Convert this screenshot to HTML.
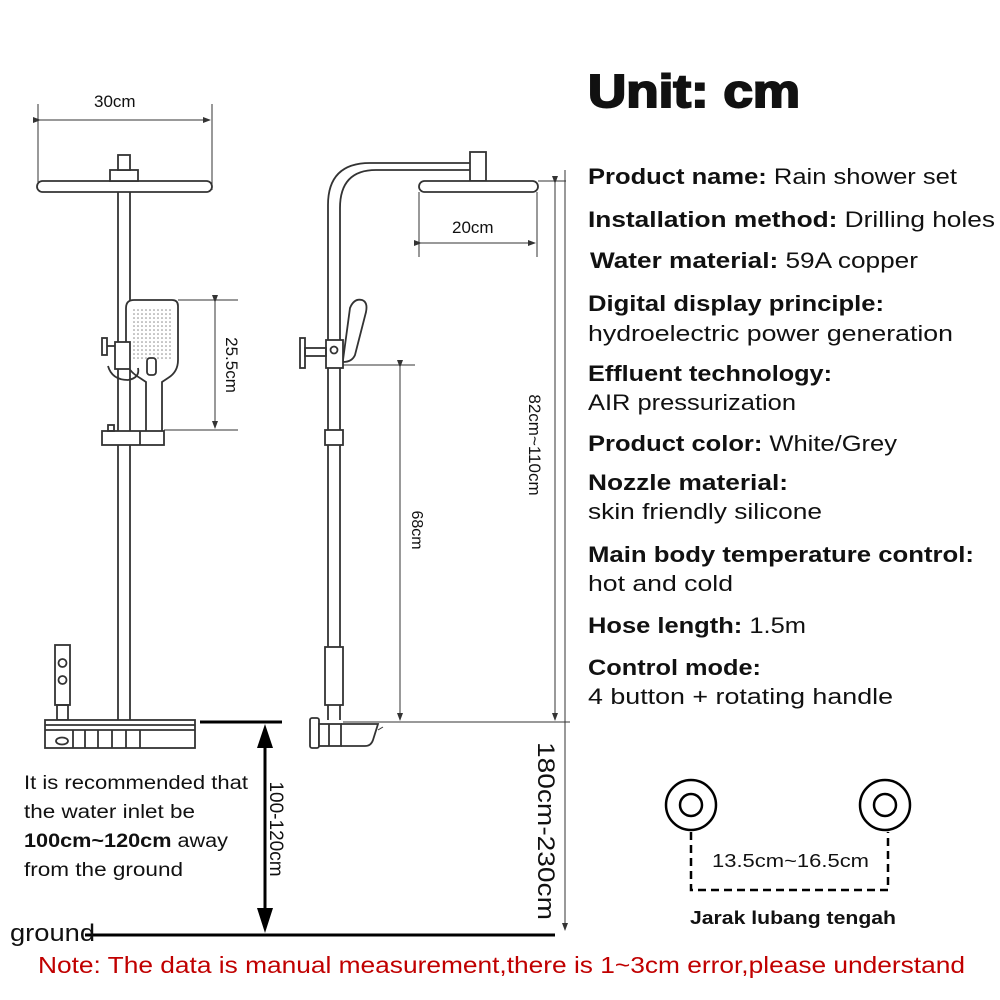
<!DOCTYPE html>
<html><head><meta charset="utf-8"><style>
html,body{margin:0;padding:0;background:#fff;}
svg{display:block;font-family:"Liberation Sans",sans-serif;}
</style></head><body>
<svg width="1000" height="1000" viewBox="0 0 1000 1000" xmlns="http://www.w3.org/2000/svg">
<defs>
<marker id="a" markerWidth="8" markerHeight="8" refX="7" refY="4" orient="auto" markerUnits="userSpaceOnUse"><path d="M0,1 L8,4 L0,7 z" fill="#333"/></marker>
<pattern id="dots" width="4" height="4" patternUnits="userSpaceOnUse"><circle cx="2" cy="2" r="0.8" fill="#888"/></pattern>
</defs>
<g fill="none" stroke="#333" stroke-width="1.8">
<line x1="38" y1="104" x2="38" y2="190" stroke-width="1"/>
<line x1="212" y1="104" x2="212" y2="190" stroke-width="1"/>
<line x1="40" y1="120" x2="210" y2="120" stroke-width="1" marker-end="url(#a)" marker-start="url(#a)"/>
<rect x="37" y="181" width="175" height="11" rx="5.5" fill="#fff"/>
<rect x="110" y="170" width="28" height="11" fill="#fff"/>
<rect x="118" y="155" width="12" height="15" fill="#fff"/>
<line x1="118" y1="192" x2="118" y2="720"/>
<line x1="130" y1="192" x2="130" y2="720"/>
<path d="M134,300 H172 Q178,300 178,306 V360 Q178,372 168,378 L162,382 V435 H146 V382 L140,378 Q126,370 126,358 V308 Q126,300 134,300 Z" fill="#fff"/>
<rect x="133" y="308" width="38" height="52" fill="url(#dots)" stroke="none"/>
<rect x="147" y="358" width="9" height="17" rx="3"/>
<path d="M108,366 Q112,380 128,380 Q140,378 138,368"/>
<rect x="115" y="342" width="15" height="27" fill="#fff"/>
<rect x="102" y="338" width="5" height="17"/>
<line x1="107" y1="346" x2="115" y2="346"/>
<rect x="102" y="431" width="62" height="14" fill="#fff"/>
<line x1="140" y1="431" x2="140" y2="445"/>
<rect x="108" y="425" width="6" height="6"/>
<line x1="178" y1="300" x2="238" y2="300" stroke-width="1"/>
<line x1="164" y1="430" x2="238" y2="430" stroke-width="1"/>
<line x1="215" y1="302" x2="215" y2="428" stroke-width="1" marker-start="url(#a)" marker-end="url(#a)"/>
<rect x="55" y="645" width="15" height="60" fill="#fff"/>
<circle cx="62.5" cy="663" r="4"/><circle cx="62.5" cy="680" r="4"/>
<rect x="57" y="705" width="11" height="15"/>
<rect x="45" y="720" width="150" height="28" fill="#fff"/>
<line x1="45" y1="725" x2="195" y2="725"/><line x1="45" y1="730" x2="195" y2="730"/>
<line x1="73" y1="730" x2="73" y2="748"/><line x1="85" y1="730" x2="85" y2="748"/><line x1="98" y1="730" x2="98" y2="748"/><line x1="112" y1="730" x2="112" y2="748"/><line x1="126" y1="730" x2="126" y2="748"/><line x1="140" y1="730" x2="140" y2="748"/>
<ellipse cx="62" cy="741" rx="6" ry="3.5"/>
<path d="M328,720 V205 Q328,163 370,163 H470"/>
<path d="M340,720 V208 Q340,170 376,170 H470"/>
<rect x="470" y="152" width="16" height="29" fill="#fff"/>
<rect x="419" y="181" width="119" height="11" rx="5.5" fill="#fff"/>
<line x1="419" y1="192" x2="419" y2="257" stroke-width="1"/>
<line x1="537" y1="192" x2="537" y2="257" stroke-width="1"/>
<line x1="421" y1="243" x2="535" y2="243" stroke-width="1" marker-start="url(#a)" marker-end="url(#a)"/>
<path d="M343,360 L350,308 Q354,298 362,300 Q368,302 366,312 L355,355 Q352,362 343,362 Z" fill="#fff"/>
<rect x="326" y="340" width="17" height="28" fill="#fff"/>
<circle cx="334" cy="350" r="3.5"/>
<rect x="300" y="338" width="5" height="30"/>
<rect x="305" y="348" width="21" height="8"/>
<rect x="325" y="430" width="18" height="15" fill="#fff"/>
<rect x="325" y="647" width="18" height="58" fill="#fff"/>
<rect x="310" y="718" width="9" height="30" rx="2" fill="#fff"/>
<rect x="319" y="724" width="22" height="22" fill="#fff"/>
<path d="M341,724 H378 L373,740 Q371,746 365,746 H341"/>
<line x1="329" y1="724" x2="329" y2="746"/>
<line x1="378" y1="730" x2="383" y2="727" stroke-width="1"/>
<line x1="343" y1="365" x2="415" y2="365" stroke-width="1"/>
<line x1="400" y1="367" x2="400" y2="720" stroke-width="1" marker-start="url(#a)" marker-end="url(#a)"/>
<line x1="343" y1="722" x2="570" y2="722" stroke-width="1"/>
<line x1="538" y1="181" x2="566" y2="181" stroke-width="1"/>
<line x1="555" y1="183" x2="555" y2="720" stroke-width="1" marker-start="url(#a)" marker-end="url(#a)"/>
<line x1="565" y1="170" x2="565" y2="930" stroke-width="1" marker-end="url(#a)"/>
<line x1="200" y1="722" x2="282" y2="722" stroke="#000" stroke-width="3"/>
<line x1="85" y1="935" x2="555" y2="935" stroke="#000" stroke-width="3"/>
<line x1="265" y1="745" x2="265" y2="912" stroke="#000" stroke-width="3"/>
</g>
<path d="M265,724 L257,748 L273,748 Z M265,933 L257,908 L273,908 Z" fill="#000"/>
<g fill="none" stroke="#000" stroke-width="2.5">
<circle cx="691" cy="805" r="25"/><circle cx="691" cy="805" r="11"/>
<circle cx="885" cy="805" r="25"/><circle cx="885" cy="805" r="11"/>
<path d="M691,832 V890 H888 V832" stroke-dasharray="8,5"/>
</g>
<g fill="#111">
<text x="94" y="107" font-size="17">30cm</text>
<text x="452" y="233" font-size="17">20cm</text>
<text transform="translate(226,365) rotate(90)" font-size="17" text-anchor="middle">25.5cm</text>
<text transform="translate(412,530) rotate(90)" font-size="16" text-anchor="middle">68cm</text>
<text transform="translate(529,445) rotate(90)" font-size="17" text-anchor="middle">82cm~110cm</text>
<text transform="translate(538,831) rotate(90)" font-size="24" text-anchor="middle" textLength="178" lengthAdjust="spacingAndGlyphs">180cm-230cm</text>
<text transform="translate(270,829) rotate(90)" font-size="19" text-anchor="middle">100-120cm</text>
<text x="588" y="107" font-size="46" font-weight="bold" stroke="#111" stroke-width="2" textLength="212" lengthAdjust="spacingAndGlyphs">Unit: cm</text>
<g font-size="22">
<text x="588" y="184" textLength="369" lengthAdjust="spacingAndGlyphs"><tspan font-weight="bold">Product name:</tspan> Rain shower set</text>
<text x="588" y="227" textLength="407" lengthAdjust="spacingAndGlyphs"><tspan font-weight="bold">Installation method:</tspan> Drilling holes</text>
<text x="590" y="268" textLength="328" lengthAdjust="spacingAndGlyphs"><tspan font-weight="bold">Water material:</tspan> 59A copper</text>
<text x="588" y="311" font-weight="bold" textLength="296" lengthAdjust="spacingAndGlyphs">Digital display principle:</text>
<text x="588" y="341" textLength="365" lengthAdjust="spacingAndGlyphs">hydroelectric power generation</text>
<text x="588" y="381" font-weight="bold" textLength="244" lengthAdjust="spacingAndGlyphs">Effluent technology:</text>
<text x="588" y="410" textLength="208" lengthAdjust="spacingAndGlyphs">AIR pressurization</text>
<text x="588" y="451" textLength="309" lengthAdjust="spacingAndGlyphs"><tspan font-weight="bold">Product color:</tspan> White/Grey</text>
<text x="588" y="490" font-weight="bold" textLength="200" lengthAdjust="spacingAndGlyphs">Nozzle material:</text>
<text x="588" y="519" textLength="234" lengthAdjust="spacingAndGlyphs">skin friendly silicone</text>
<text x="588" y="562" font-weight="bold" textLength="386" lengthAdjust="spacingAndGlyphs">Main body temperature control:</text>
<text x="588" y="591" textLength="145" lengthAdjust="spacingAndGlyphs">hot and cold</text>
<text x="588" y="633" textLength="218" lengthAdjust="spacingAndGlyphs"><tspan font-weight="bold">Hose length:</tspan> 1.5m</text>
<text x="588" y="675" font-weight="bold" textLength="173" lengthAdjust="spacingAndGlyphs">Control mode:</text>
<text x="588" y="704" textLength="305" lengthAdjust="spacingAndGlyphs">4 button + rotating handle</text>
</g>
<text x="712" y="867" font-size="18" textLength="157" lengthAdjust="spacingAndGlyphs">13.5cm~16.5cm</text>
<text x="690" y="924" font-size="18" font-weight="bold" textLength="206" lengthAdjust="spacingAndGlyphs">Jarak lubang tengah</text>
<g font-size="19">
<text x="24" y="789" textLength="224" lengthAdjust="spacingAndGlyphs">It is recommended that</text>
<text x="24" y="818" textLength="171" lengthAdjust="spacingAndGlyphs">the water inlet be</text>
<text x="24" y="847" textLength="204" lengthAdjust="spacingAndGlyphs"><tspan font-weight="bold">100cm~120cm</tspan> away</text>
<text x="24" y="876" textLength="159" lengthAdjust="spacingAndGlyphs">from the ground</text>
</g>
<text x="10" y="941" font-size="24" textLength="85" lengthAdjust="spacingAndGlyphs">ground</text>
</g>
<text x="38" y="973" font-size="23" fill="#c00000" textLength="927" lengthAdjust="spacingAndGlyphs">Note: The data is manual measurement,there is 1~3cm error,please understand</text>
</svg>
</body></html>
